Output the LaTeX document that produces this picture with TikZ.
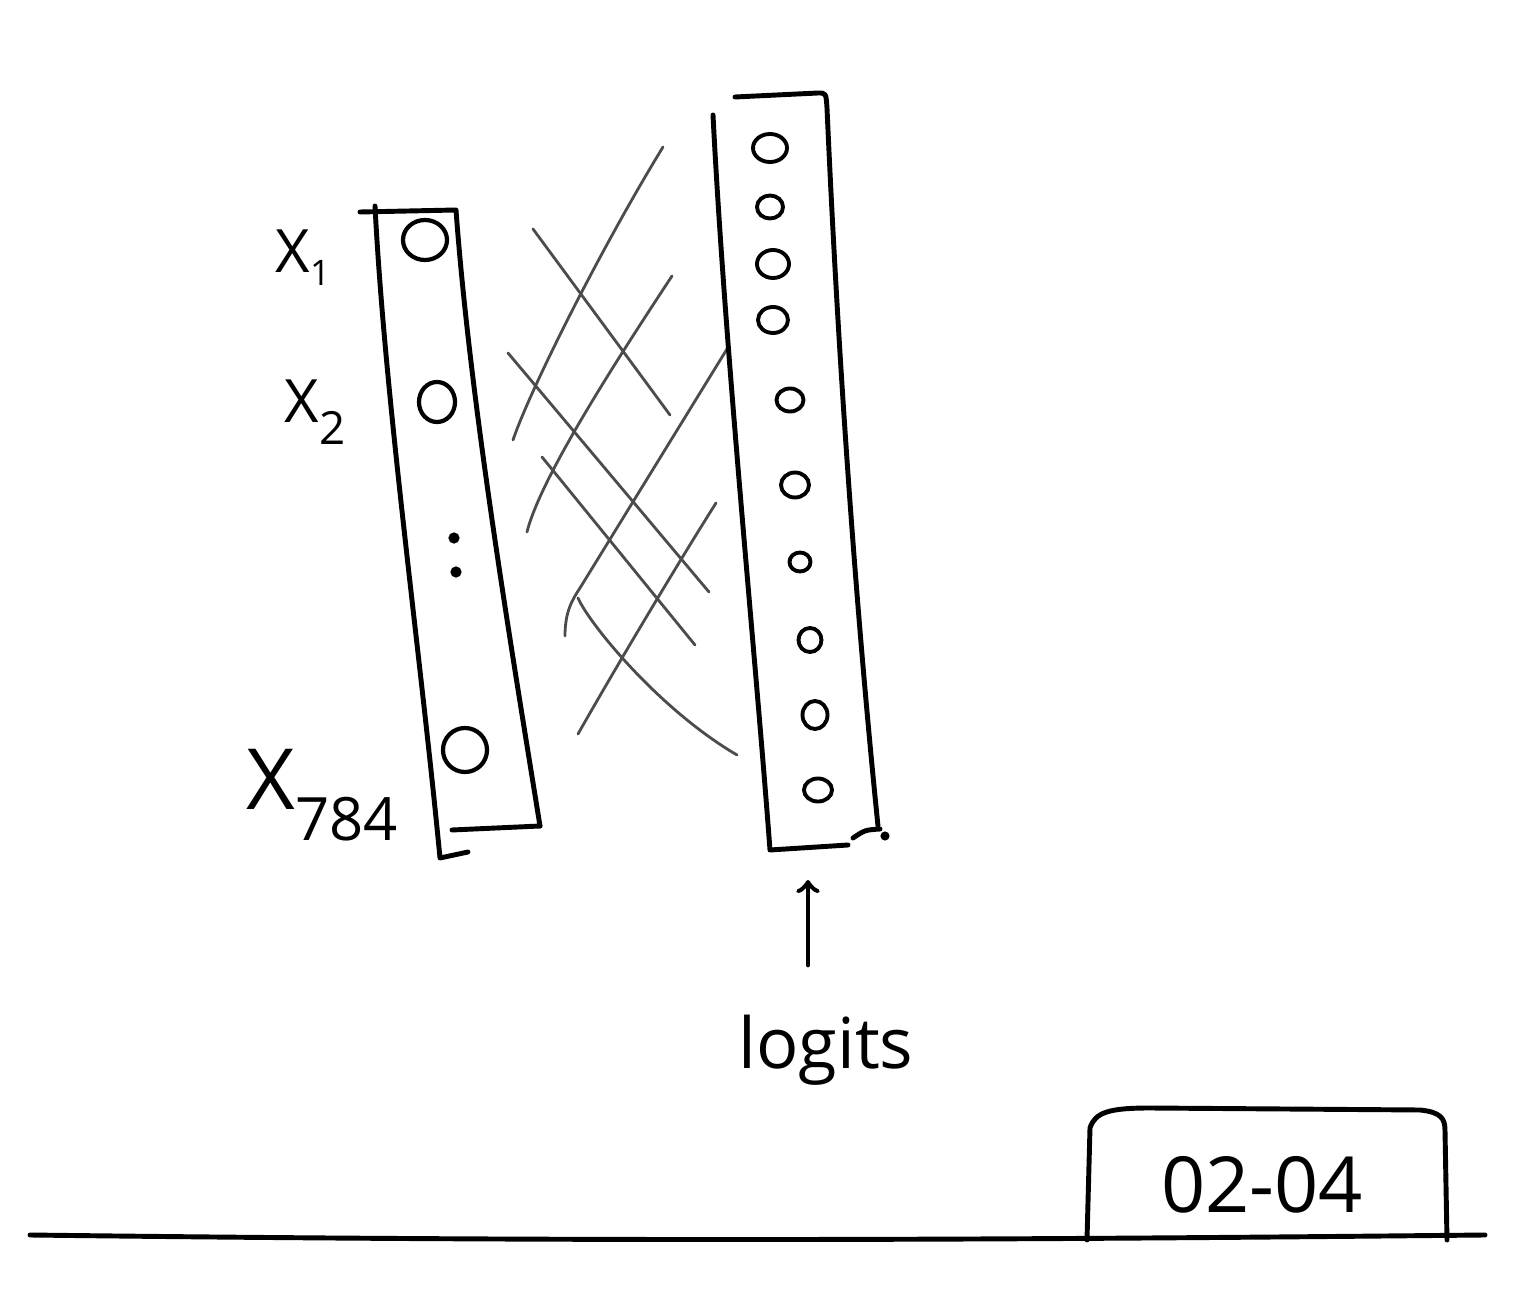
\documentclass[tikz,border=0pt]{standalone}
\usepackage{fontspec}
\setmainfont{Open Sans}
\usetikzlibrary{shapes.geometric}

\begin{document}
\begin{tikzpicture}[x=0.01cm, y=-0.01cm,
        pen/.style={line width=1.4pt, line cap=round, line join=round},
        wire/.style={line width=0.8pt, black!70, line cap=round},
        unit/.style={ellipse, draw, line width=1.2pt, inner sep=0pt},
        lbl/.style={inner sep=0pt}]
        \useasboundingbox (0,0) rectangle (1535,1300);

        % Input column
        \draw[pen] (360,212) -- (456,210) .. controls (470,400) and (510,640) .. (540,826);
        \draw[pen] (375,206) .. controls (385,400) and (420,650) .. (440,858) -- (468,852);
        \draw[pen] (452,830) -- (540,826);
        \node[unit, minimum width=4.4mm, minimum height=4.0mm] (in1) at (425,240) {};
        \node[unit, minimum width=3.6mm, minimum height=4.0mm] (in2) at (437,402) {};
        \fill (454,538) circle (1.6pt) (456,572) circle (1.6pt);
        \node[unit, minimum width=4.4mm, minimum height=4.4mm] (in784) at (465,750) {};

        % Input labels
        \node[lbl, font=\fontsize{17}{18}\selectfont] (x1) at (303,258) {X\raisebox{-0.4ex}{\fontsize{10}{12}\selectfont 1}};
        \node[lbl, font=\fontsize{17}{18}\selectfont] (x2) at (315,412) {X\raisebox{-0.7ex}{\fontsize{13}{14}\selectfont 2}};
        \node[lbl, font=\fontsize{24}{26}\selectfont] (x784) at (322,795) {X\raisebox{-0.7ex}{\fontsize{17}{18}\selectfont 784}};

        % Weights
        \draw[wire] (513,440) .. controls (530,390) and (600,250) .. (663,147);
        \draw[wire] (527,532) .. controls (540,480) and (610,370) .. (672,276);
        \draw[wire] (565,636) .. controls (565,612) and (572,600) .. (580,588) -- (727,349);
        \draw[wire] (578,734) .. controls (620,660) and (680,560) .. (716,503);
        \draw[wire] (533,229) -- (670,415);
        \draw[wire] (508,353) -- (709,592);
        \draw[wire] (542,457) -- (695,645);
        \draw[wire] (578,598) .. controls (590,625) and (660,710) .. (737,755);

        % Output column
        \draw[pen] (735,97) -- (818,93) .. controls (826,93) .. (827,108)
            .. controls (840,400) and (860,650) .. (878,826);
        \draw[pen] (713,115) .. controls (725,350) and (755,650) .. (770,850) -- (848,845);
        \draw[pen] (853,838) .. controls (865,830) .. (880,829);
        \fill (885,836) circle (1.3pt);
        \foreach \i/\cx/\cy/\w/\h in {1/770/148/3.4/2.8, 2/770/207/2.6/2.3, 3/773/264/3.2/2.8,
                4/773/320/3.0/2.6, 5/790/400/2.7/2.3, 6/795/485/2.8/2.5, 7/800/562/2.1/1.9,
                8/810/640/2.3/2.4, 9/815/715/2.5/2.8, 10/818/790/2.8/2.3} {
            \node[unit, line width=1.1pt, minimum width=\w mm, minimum height=\h mm] (out\i) at (\cx,\cy) {};
        }

        % Logits
        \node[lbl, font=\fontsize{20}{22}\selectfont] (logits) at (826,1050) {logits};
        \coordinate (tip) at (808,880);
        \draw[pen, ->] (808,965) -- (tip);

        % Baseline and tag
        \draw[pen] (30,1235) .. controls (600,1242) and (1000,1240) .. (1485,1235);
        \draw[pen] (1087,1240) -- (1090,1128) .. controls (1095,1112) and (1110,1108) .. (1150,1108)
            -- (1420,1110) .. controls (1440,1112) and (1445,1118) .. (1445,1130) -- (1447,1240);
        \node[lbl, font=\fontsize{22}{24}\selectfont] (tag) at (1262,1185) {02-04};
    \end{tikzpicture}
\end{document}
